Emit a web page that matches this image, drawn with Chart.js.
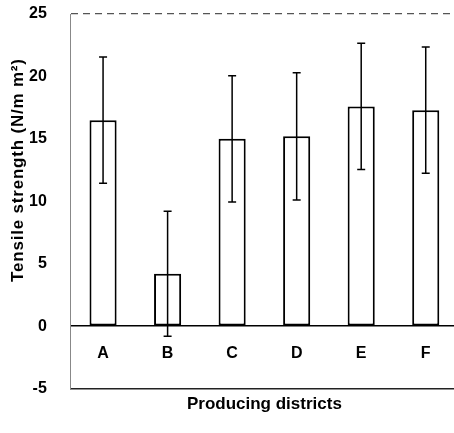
<!DOCTYPE html>
<html>
<head>
<meta charset="utf-8">
<script src="https://cdn.jsdelivr.net/npm/chart.js@4"></script>
<style>
  html, body { margin: 0; padding: 0; background: #fff; overflow: hidden; }
  #wrap { width: 458px; height: 433px; position: relative; }
</style>
</head>
<body>
<div id="wrap"><canvas id="chart"></canvas></div>
<script>
const districts = ['A', 'B', 'C', 'D', 'E', 'F'];
const strength = [16.5, 4.2, 15.0, 15.2, 17.6, 17.3];   // mean tensile strength
const strengthSD = [5.05, 5.0, 5.05, 5.1, 5.05, 5.05]; // error bar half length
const yTicks = [-5, 0, 5, 10, 15, 20, 25];

const Y_TITLE = 'Tensile strength (N/m m\u00B2)';
const X_TITLE = 'Producing districts';
const FONT = '"Liberation Sans", Arial, Helvetica, sans-serif';

// error bars drawn through the y scale
const errorBars = {
  id: 'errorBars',
  afterDatasetsDraw(chart) {
    const ctx = chart.ctx;
    const y = chart.scales.y;
    const meta = chart.getDatasetMeta(0);
    ctx.save();
    ctx.strokeStyle = '#000';
    ctx.lineWidth = 1.5;
    meta.data.forEach((bar, i) => {
      const top = y.getPixelForValue(strength[i] + strengthSD[i]);
      const bot = y.getPixelForValue(strength[i] - strengthSD[i]);
      ctx.beginPath();
      ctx.moveTo(bar.x, top); ctx.lineTo(bar.x, bot);
      ctx.moveTo(bar.x - 4, top); ctx.lineTo(bar.x + 4, top);
      ctx.moveTo(bar.x - 4, bot); ctx.lineTo(bar.x + 4, bot);
      ctx.stroke();
    });
    ctx.restore();
  }
};

// y title is centred on the positive part of the axis, like the original
const yTitle = {
  id: 'yTitle',
  afterDraw(chart) {
    const ctx = chart.ctx;
    const y = chart.scales.y;
    const cy = (y.getPixelForValue(25) + y.getPixelForValue(0)) / 2;
    ctx.save();
    ctx.translate(18, cy);
    ctx.rotate(-Math.PI / 2);
    ctx.font = 'bold 17px ' + FONT;
    ctx.letterSpacing = '0.8px';
    ctx.fillStyle = '#000';
    ctx.textAlign = 'center';
    ctx.textBaseline = 'middle';
    ctx.fillText(Y_TITLE, 0, 0);
    ctx.restore();
  }
};

new Chart(document.getElementById('chart'), {
  type: 'bar',
  data: {
    labels: districts,
    datasets: [{
      data: strength,
      backgroundColor: '#fff',
      borderColor: '#000',
      borderWidth: 2,
      borderSkipped: false,
      barPercentage: 0.42,
      categoryPercentage: 1
    }]
  },
  options: {
    responsive: true,
    maintainAspectRatio: false,
    animation: false,
    layout: { padding: { left: 25, top: 14, right: 0, bottom: 18 } },
    plugins: { legend: { display: false }, tooltip: { enabled: false } },
    scales: {
      x: {
        axis: 'x',
        position: { y: 0 },
        grid: { display: false, drawTicks: false },
        border: { color: '#000', width: 1.5 },
        ticks: { color: '#000', padding: 18, font: { family: FONT, size: 16, weight: 'bold' } }
      },
      x2: {
        axis: 'x',
        type: 'category',
        labels: districts,
        position: 'bottom',
        grid: { display: false, drawTicks: false },
        border: { color: '#222', width: 1.5 },
        ticks: { display: false },
        title: {
          display: true, text: X_TITLE, color: '#000',
          padding: { top: 6, bottom: 0 },
          font: { family: FONT, size: 17, weight: 'bold' }
        }
      },
      y: {
        min: -5, max: 25,
        afterBuildTicks: s => { s.ticks = yTicks.map(v => ({ value: v })); },
        grid: {
          drawTicks: true,
          tickLength: 20,
          tickColor: 'transparent',
          color: c => c.tick && c.tick.value === 25 ? '#555' : 'transparent',
          lineWidth: 1.2
        },
        border: { color: '#888', width: 1, dash: [7, 5] },
        ticks: { color: '#000', padding: 4, font: { family: FONT, size: 16, weight: 'bold' } }
      }
    }
  },
  plugins: [errorBars, yTitle]
});
</script>
</body>
</html>
